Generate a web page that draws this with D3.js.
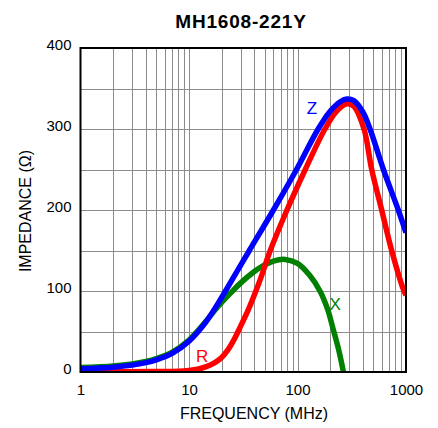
<!DOCTYPE html>
<html><head><meta charset="utf-8">
<script src="https://cdn.jsdelivr.net/npm/d3@7/dist/d3.min.js"></script>
<style>body{margin:0;background:#fff}svg{display:block}</style>
</head><body>
<svg id="c" width="438" height="428"></svg>
<script>
const title = "MH1608-221Y";
const xTicks = [1, 10, 100, 1000];
const yTicks = [0, 100, 200, 300, 400];
const seriesNames = ["X", "R", "Z"];
// frequency (MHz), impedance (ohm)
const zFreq = [1, 2, 3, 4, 5, 7, 10, 14, 20, 28.5, 36, 60, 98, 155, 200, 250, 285, 330, 400, 466, 619, 849, 1000];
const zVal  = [4, 6, 8.5, 11.5, 15, 23, 38, 60, 92, 127, 150, 200, 250, 300, 322, 334, 337, 335, 321, 300, 250, 200, 172];
const rFreq = [1, 5, 8, 10, 12, 14, 17, 20, 23, 26, 30, 35, 40, 47, 55, 80, 118, 179, 230, 285, 330, 410, 483, 597, 738, 945, 1000];
const rVal  = [0.5, 0.5, 1, 2, 3.5, 6, 11, 18, 28, 40, 57, 76, 95, 120, 147, 200, 250, 300, 322, 331, 328, 300, 250, 200, 150, 102, 95];
const xFreq = [1, 2, 3, 4, 5, 7, 10, 14, 17, 20, 24, 30, 40, 48, 60, 77, 100, 130, 161, 190, 211, 240, 265];
const xVal  = [5.5, 7.5, 10, 13, 16.5, 24.5, 39.5, 61, 75, 86, 97, 110, 124, 131, 137, 139, 134, 119, 100, 77, 55, 27, 0];
const labels = [
  {name: "Z", f: 136, v: 318},
  {name: "R", f: 13.2, v: 12},
  {name: "X", f: 222, v: 76}
];

const svg = d3.select("#c");
const L = 80.5, T = 48, Rr = 406, B = 372;
const x = d3.scaleLog().domain([1, 1000]).range([L, Rr]);
const y = d3.scaleLinear().domain([0, 400]).range([B, T]);
const font = "'Liberation Sans', Arial, sans-serif";

// grid
const vGrid = [];
for (let d = 1; d < 1000; d *= 10) for (let k = 1; k < 10; k++) vGrid.push(d * k);
const g = svg.append("g");
g.selectAll("line.v").data(vGrid.filter(v => v > 1)).join("line")
  .attr("x1", d => Math.round(x(d)) + 0.5).attr("x2", d => Math.round(x(d)) + 0.5)
  .attr("y1", T).attr("y2", B).attr("stroke", "#8c8c8c").attr("stroke-width", 1);
g.selectAll("line.h").data(d3.range(50, 400, 50)).join("line")
  .attr("y1", d => Math.round(y(d)) + 0.5).attr("y2", d => Math.round(y(d)) + 0.5)
  .attr("x1", L).attr("x2", Rr).attr("stroke", "#8c8c8c").attr("stroke-width", 1);

// curves
const colors = {Z: "#0000ff", R: "#ff0000", X: "#008000"};
const mk = (fs, vs) => fs.map((f, i) => [f, vs[i]]);
const data = {Z: mk(zFreq, zVal), R: mk(rFreq, rVal), X: mk(xFreq, xVal)};
const line = d3.line().x(d => x(d[0])).y(d => y(d[1])).curve(d3.curveCatmullRom.alpha(0.5));
svg.append("clipPath").attr("id", "pc").append("rect")
  .attr("x", L).attr("y", T - 5).attr("width", Rr - L).attr("height", B - T + 5);
seriesNames.forEach(n => {
  svg.append("path").attr("d", line(data[n])).attr("fill", "none")
    .attr("stroke", colors[n]).attr("stroke-width", 5.5).attr("stroke-linejoin", "round")
    .attr("clip-path", "url(#pc)");
});

// frame
svg.append("rect").attr("x", L).attr("y", T).attr("width", Rr - L).attr("height", B - T)
  .attr("fill", "none").attr("stroke", "#000").attr("stroke-width", 2);

// axes (labels only)
const ax = svg.append("g").attr("transform", `translate(0,${B})`)
  .call(d3.axisBottom(x).tickValues(xTicks).tickFormat(d3.format("d")).tickSize(0).tickPadding(12));
const ay = svg.append("g").attr("transform", `translate(${L},0)`)
  .call(d3.axisLeft(y).tickValues(yTicks).tickSize(0).tickPadding(9));
[ax, ay].forEach(a => {
  a.select(".domain").remove();
  a.selectAll("text").attr("font-family", font).attr("font-size", 15).attr("fill", "#000");
});
ay.selectAll("text").attr("dy", "0.1em");

// series labels
labels.forEach(l => {
  svg.append("text").attr("x", x(l.f)).attr("y", y(l.v)).attr("text-anchor", "middle")
    .attr("font-family", font).attr("font-size", 17).attr("fill", colors[l.name]).text(l.name);
});

// titles
svg.append("text").attr("x", 241).attr("y", 28).attr("text-anchor", "middle")
  .attr("font-family", font).attr("font-size", 19).attr("font-weight", "bold")
  .attr("letter-spacing", "0.8px").text(title);
svg.append("text").attr("x", 254).attr("y", 419).attr("text-anchor", "middle")
  .attr("font-family", font).attr("font-size", 16).text("FREQUENCY (MHz)");
svg.append("text").attr("transform", "translate(31,211) rotate(-90)").attr("text-anchor", "middle")
  .attr("font-family", font).attr("font-size", 16).text("IMPEDANCE (Ω)");
</script>
</body></html>
